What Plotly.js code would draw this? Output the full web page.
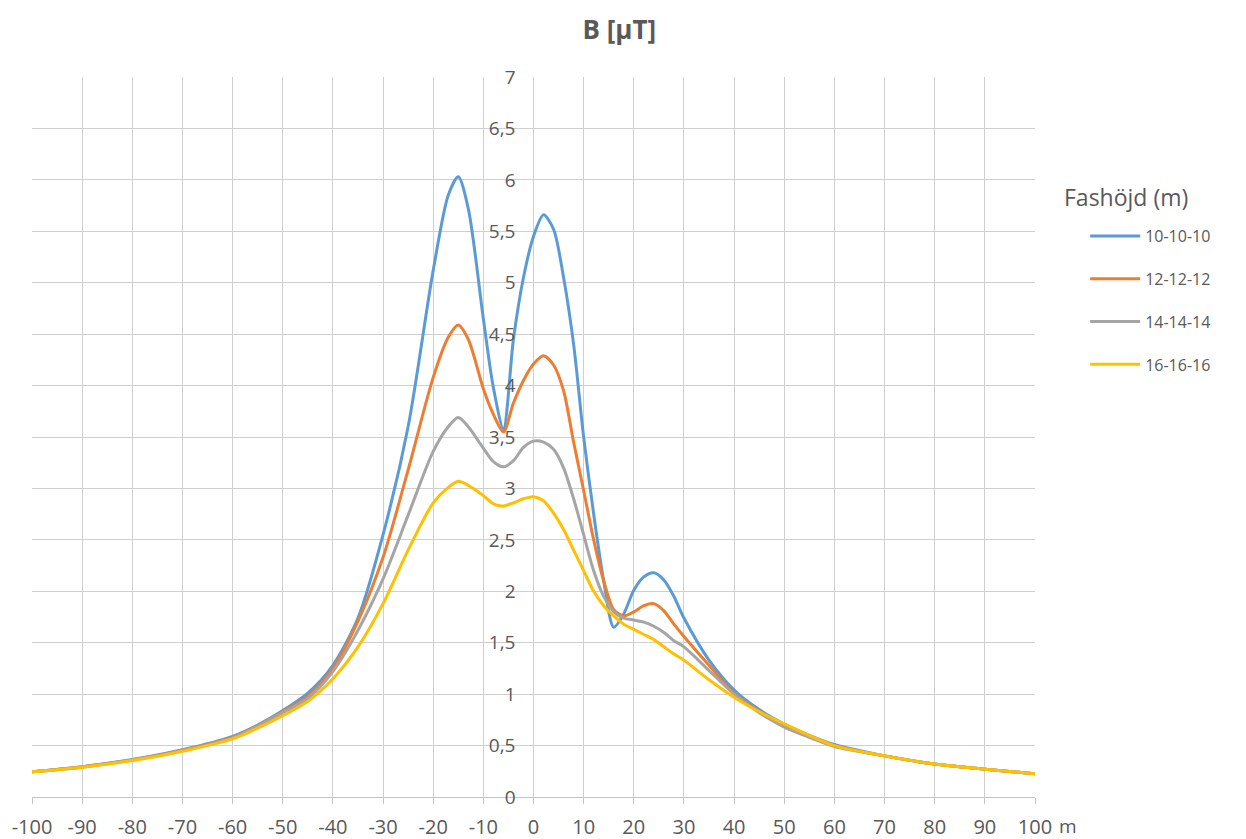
<!DOCTYPE html>
<html>
<head>
<meta charset="utf-8">
<script src="https://cdn.plot.ly/plotly-3.0.1.min.js"></script>
<style>
html,body{margin:0;padding:0;background:#fff;}
#chart{width:1246px;height:839px;}
</style>
</head>
<body>
<div id="chart"></div>
<script>
// distance from centre line (m)
const distance = [-100,-90,-80,-70,-60,-55,-50,-45,-40,-35,-30,-25,-20,-17,-15,-13,-10,-8,-6,-4,-2,0,2,4,6,8,10,12,14,16,18,20,22,24,26,28,30,35,40,45,50,55,60,70,80,90,100];

// B field (µT) per phase height
const b10 = [0.245,0.295,0.365,0.46,0.59,0.70,0.84,1.01,1.28,1.74,2.55,3.6,5.12,5.85,6.03,5.72,4.65,3.98,3.58,4.45,5.05,5.45,5.66,5.52,5.05,4.4,3.5,2.75,2.1,1.65,1.78,2.01,2.14,2.18,2.11,1.95,1.74,1.33,1.04,0.85,0.71,0.6,0.51,0.40,0.32,0.27,0.225];
const b12 = [0.245,0.295,0.36,0.455,0.58,0.695,0.83,0.98,1.25,1.71,2.33,3.18,4.08,4.47,4.59,4.45,3.97,3.72,3.55,3.83,4.05,4.21,4.29,4.2,3.95,3.45,2.98,2.5,2.1,1.82,1.76,1.8,1.86,1.88,1.81,1.68,1.56,1.28,1.01,0.83,0.69,0.59,0.5,0.40,0.32,0.27,0.225];
const b14 = [0.245,0.29,0.36,0.45,0.575,0.69,0.82,0.96,1.22,1.62,2.12,2.74,3.36,3.6,3.69,3.6,3.39,3.26,3.21,3.27,3.4,3.46,3.45,3.38,3.2,2.9,2.55,2.2,1.95,1.8,1.74,1.72,1.70,1.66,1.6,1.52,1.46,1.23,1.0,0.82,0.68,0.58,0.49,0.40,0.32,0.27,0.225];
const b16 = [0.245,0.29,0.355,0.445,0.565,0.67,0.79,0.93,1.15,1.46,1.88,2.4,2.86,3.01,3.07,3.03,2.93,2.85,2.83,2.86,2.9,2.92,2.88,2.76,2.6,2.4,2.2,2.0,1.86,1.76,1.68,1.63,1.58,1.53,1.46,1.39,1.33,1.14,0.97,0.83,0.71,0.6,0.5,0.40,0.32,0.27,0.225];

const seriesNames = ['10-10-10','12-12-12','14-14-14','16-16-16'];
const seriesColors = ['#5b9bd5','#ed7d31','#a5a5a5','#ffc000'];

const xTickVals = [-100,-90,-80,-70,-60,-50,-40,-30,-20,-10,0,10,20,30,40,50,60,70,80,90,100];
const xTickLabels = ['-100','-90','-80','-70','-60','-50','-40','-30','-20','-10','0','10','20','30','40','50','60','70','80','90','100'];
const yTickVals = [0,0.5,1,1.5,2,2.5,3,3.5,4,4.5,5,5.5,6,6.5,7];
const yTickLabels = ['0','0,5','1','1,5','2','2,5','3','3,5','4','4,5','5','5,5','6','6,5','7'];

const FONT = 'Open Sans, Liberation Sans, sans-serif';
const GREY = '#595959';

const allSeries = [b10,b12,b14,b16];
const traces = allSeries.map((vals,i)=>({
  type:'scatter', mode:'lines', x:distance, y:vals, name:seriesNames[i],
  legendgroup:'g'+i,
  line:{color:seriesColors[i], width:3, shape:'spline', smoothing:0.8}
}));

const layout = {
  width:1246, height:839,
  margin:{l:32, r:211, t:77, b:42},
  paper_bgcolor:'#fff', plot_bgcolor:'#fff',
  font:{family:FONT, color:GREY},
  title:{text:'<b>B [µT]</b>', font:{family:FONT, size:26, color:GREY},
         xref:'container', x:0.497, xanchor:'center', yref:'container', y:1-30/839, yanchor:'middle'},
  xaxis:{range:[-100,100], tickvals:xTickVals, ticktext:xTickLabels,
         showgrid:true, gridcolor:'#cfcfcf', gridwidth:1, zeroline:false,
         showline:true, linecolor:'#c4c4c4', linewidth:1,
         ticks:'outside', ticklen:6, tickcolor:'#c4c4c4', ticklabelstandoff:6,
         tickfont:{family:FONT, size:20, color:GREY}, fixedrange:true},
  yaxis:{range:[0,7], tickvals:yTickVals, ticktext:yTickLabels,
         anchor:'free', position:0.5,
         showgrid:true, gridcolor:'#cfcfcf', gridwidth:1, zeroline:false,
         showline:false, ticks:'', ticklabelstandoff:18,
         tickfont:{family:FONT, size:19, color:GREY}, fixedrange:true},
  showlegend:true,
  legend:{x:1.05, xanchor:'left', y:(797-219)/720, yanchor:'top',
          font:{family:FONT, size:16, color:GREY}, tracegroupgap:19,
          itemwidth:50, bgcolor:'rgba(0,0,0,0)'},
  annotations:[
    {text:'Fashöjd (m)', xref:'paper', yref:'paper', x:(1062-32)/1003, y:(797-197)/720,
     xanchor:'left', yanchor:'middle', showarrow:false, font:{family:FONT, size:23, color:GREY}},
    {text:'m', xref:'paper', yref:'paper', x:(1057-32)/1003, y:(797-826)/720,
     xanchor:'left', yanchor:'middle', showarrow:false, font:{family:FONT, size:19, color:GREY}}
  ]
};

Plotly.newPlot('chart', traces, layout, {displayModeBar:false, staticPlot:true});
</script>
</body>
</html>
